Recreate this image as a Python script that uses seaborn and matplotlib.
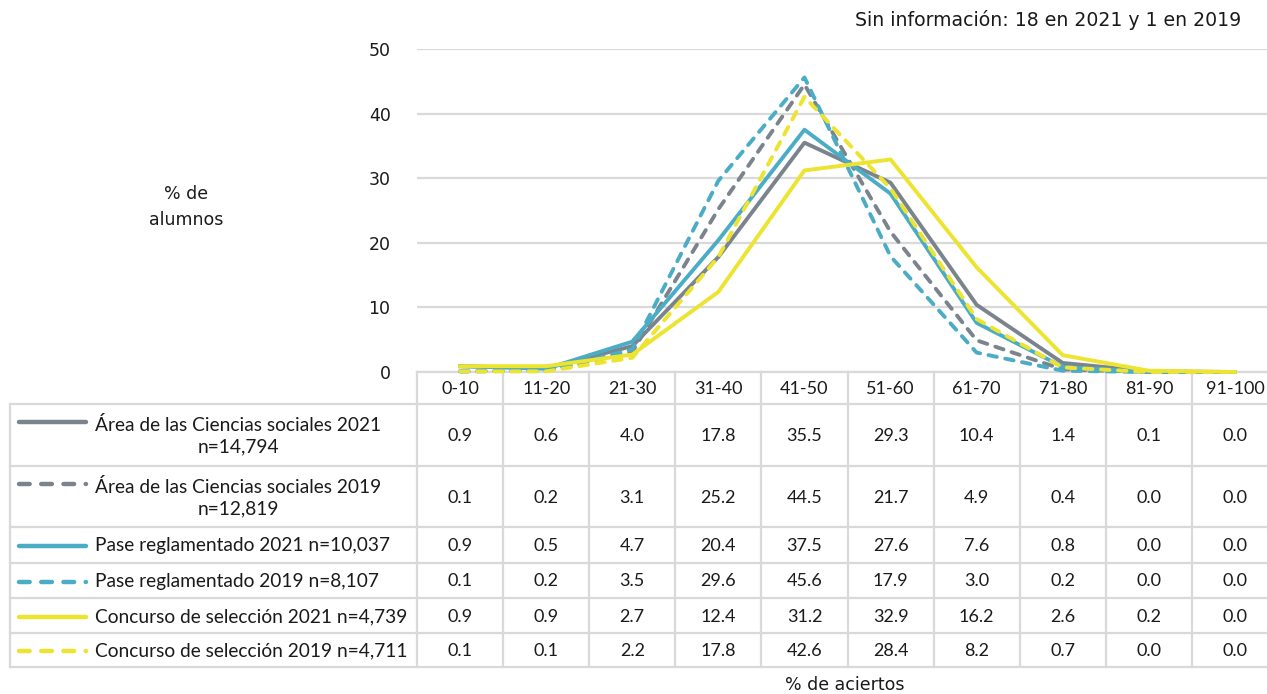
import matplotlib
matplotlib.use("Agg")
import matplotlib.pyplot as plt
import pandas as pd
import seaborn as sns

rangos = ['0-10', '11-20', '21-30', '31-40', '41-50', '51-60', '61-70', '71-80', '81-90', '91-100']

series = ['Área de las Ciencias sociales 2021\nn=14,794',
          'Área de las Ciencias sociales 2019\nn=12,819',
          'Pase reglamentado 2021 n=10,037',
          'Pase reglamentado 2019 n=8,107',
          'Concurso de selección 2021 n=4,739',
          'Concurso de selección 2019 n=4,711']

area_2021 = [0.9, 0.6, 4.0, 17.8, 35.5, 29.3, 10.4, 1.4, 0.1, 0.0]
area_2019 = [0.1, 0.2, 3.1, 25.2, 44.5, 21.7, 4.9, 0.4, 0.0, 0.0]
pase_2021 = [0.9, 0.5, 4.7, 20.4, 37.5, 27.6, 7.6, 0.8, 0.0, 0.0]
pase_2019 = [0.1, 0.2, 3.5, 29.6, 45.6, 17.9, 3.0, 0.2, 0.0, 0.0]
concurso_2021 = [0.9, 0.9, 2.7, 12.4, 31.2, 32.9, 16.2, 2.6, 0.2, 0.0]
concurso_2019 = [0.1, 0.1, 2.2, 17.8, 42.6, 28.4, 8.2, 0.7, 0.0, 0.0]

valores = [area_2021, area_2019, pase_2021, pase_2019, concurso_2021, concurso_2019]

gris = '#7b848d'
azul = '#4bacc6'
amarillo = '#ece430'
colores = [gris, gris, azul, azul, amarillo, amarillo]
discontinua = [False, True, False, True, False, True]

df = pd.DataFrame([(s, r, v) for s, vals in zip(series, valores) for r, v in zip(rangos, vals)],
                  columns=['serie', 'rango', 'pct'])

plt.rcParams['font.family'] = ['Lato', 'DejaVu Sans']
negro = '#1a1a1a'
fuente_titulo = 'DejaVu Sans'

W, H = 1267, 694
fig = plt.figure(figsize=(W / 100, H / 100), dpi=100)

# capa en pixeles para la tabla y textos
capa = fig.add_axes([0, 0, 1, 1])
capa.set_xlim(0, W)
capa.set_ylim(H, 0)
capa.axis('off')

x0, x1 = 417, 1278
y_top, y_zero = 49, 372
ax = fig.add_axes([x0 / W, 1 - y_zero / H, (x1 - x0) / W, (y_zero - y_top) / H])
ax.patch.set_alpha(0)

sns.lineplot(data=df, x='rango', y='pct', hue='serie', style='serie',
             palette=dict(zip(series, colores)),
             dashes={s: ((2.2, 2.2) if d else '') for s, d in zip(series, discontinua)},
             linewidth=2.8, sort=False, legend=False, ax=ax)
for ln in ax.lines:
    ln.set_clip_on(False)
    ln.set_dash_capstyle('round')

ax.set_xlim(-0.5, 9.5)
ax.set_ylim(0, 50)
ax.set_yticks(range(0, 51, 10))
ax.set_xticks([])
ax.set_xlabel('')
ax.set_ylabel('')
ax.tick_params(axis='y', length=0, pad=19, labelsize=12.5, labelcolor=negro)
for lab in ax.get_yticklabels():
    lab.set_family(fuente_titulo)
ax.grid(axis='y', color='#d9d9d9', linewidth=1.6)
ax.set_axisbelow(True)
for s in ax.spines.values():
    s.set_visible(False)

# tabla de datos
borde = '#d9d9d9'
col_w = (x1 - x0) / 10
filas = [372, 404, 466, 527, 563, 598, 633, 667]
lw_b = 1.6
capa.plot([x0, W], [filas[0], filas[0]], color=borde, lw=lw_b)
for y in filas[1:]:
    capa.plot([10, W], [y, y], color=borde, lw=lw_b)
capa.plot([10, 10], [filas[1], filas[-1]], color=borde, lw=lw_b)
for i in range(11):
    xx = x0 + i * col_w
    capa.plot([xx, xx], [filas[0], filas[-1]], color=borde, lw=lw_b)

for i, r in enumerate(rangos):
    capa.text(x0 + (i + 0.5) * col_w, (filas[0] + filas[1]) / 2 + 1, r,
              ha='center', va='center', fontsize=13, color=negro)

for k, (s, vals) in enumerate(zip(series, valores)):
    yc = (filas[k + 1] + filas[k + 2]) / 2 + 1
    n_lin = s.count('\n') + 1
    capa.text(95, yc, s, ha='left', va='center', multialignment='center',
              fontsize=13.8, color=negro, linespacing=1.3)
    y_line = yc - (14 if n_lin == 2 else 0)
    capa.plot([19, 86], [y_line, y_line], color=colores[k], lw=3.2,
              linestyle=(0, (2.4, 2.6)) if discontinua[k] else '-',
              solid_capstyle='round', dash_capstyle='round')
    for i, v in enumerate(vals):
        capa.text(x0 + (i + 0.5) * col_w, yc, f'{v:.1f}', ha='center', va='center',
                  fontsize=13, color=negro)

capa.text(186, 207, '% de\nalumnos', ha='center', va='center', fontsize=12.5,
          color=negro, linespacing=1.6, family=fuente_titulo)
capa.text(845, 685, '% de aciertos', ha='center', va='center', fontsize=12.5,
          color=negro, family=fuente_titulo)
capa.text(1241, 20, 'Sin información: 18 en 2021 y 1 en 2019', ha='right', va='center',
          fontsize=13.6, color=negro, family=fuente_titulo)

fig.savefig('out.png', dpi=100)
